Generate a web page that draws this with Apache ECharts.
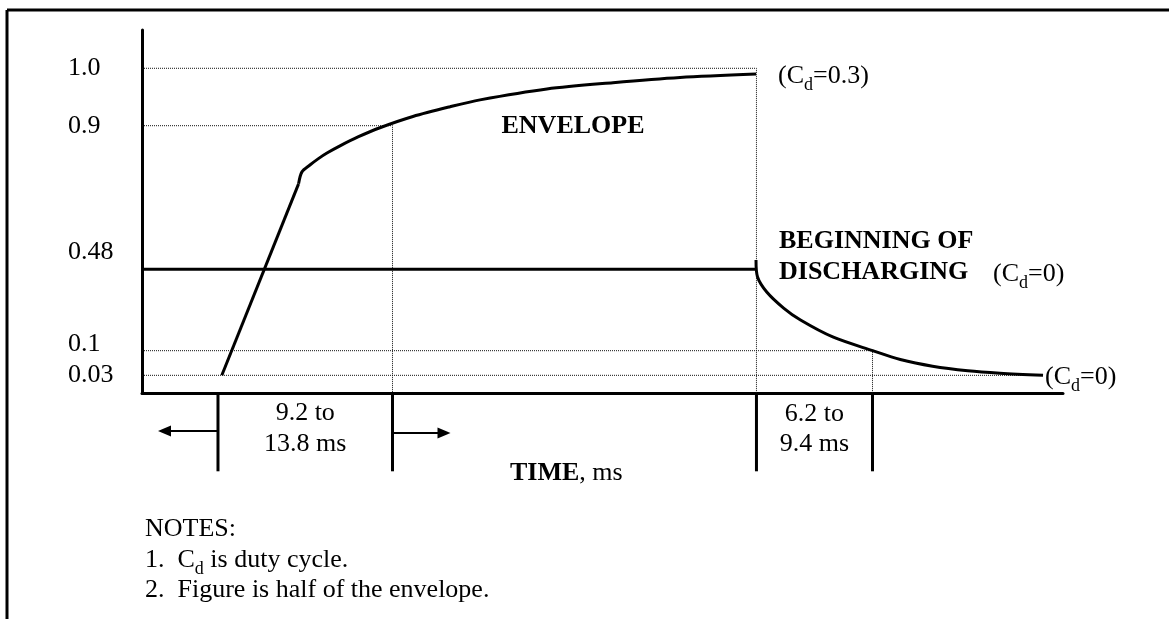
<!DOCTYPE html>
<html>
<head>
<meta charset="utf-8">
<script src="https://cdn.jsdelivr.net/npm/echarts@6/dist/echarts.min.js"></script>
<style>
html,body{margin:0;padding:0;background:#fff;}
#chart{width:1169px;height:619px;}
</style>
</head>
<body>
<div id="chart"></div>
<script>
// level ticks on the vertical axis
var levelTicks=[0.03,0.1,0.48,0.9,1.0];
var levelTickText=['0.03','0.1','0.48','0.9','1.0'];
// the figure is a sketch, the level axis is not linear: knots of the axis scale (value -> share of axis height)
var levelKnots=[0,0.03,0.1,0.48,0.9,1.0];
var levelDrawn=[0,0.0495,0.1173,0.3413,0.7366,0.8946];

// time in ms
var riseTime=[5.2,10.2];
var riseLevel=[0.03,0.73];
var envTime=[10.2,10.42,10.94,11.47,12.05,12.9,14.07,15.5,17.65,20.07,22.02,26.38,30.68,35.05,40.0];
var envLevel=[0.73,0.765,0.785,0.803,0.82,0.841,0.867,0.894,0.916,0.933,0.945,0.964,0.975,0.984,0.99];
var holdTime=[0,40.0];
var holdLevel=[0.48,0.48];
var dischargeTime=[40.0,40.1,40.7,41.8,42.9,45.0,47.6,49.4,51.5,53.8,55.9,58.7];
var dischargeLevel=[0.507,0.444,0.374,0.299,0.243,0.164,0.10,0.075,0.056,0.043,0.036,0.03];
// bracket marks under the time axis
var bracketTime=[4.95,16.32,40.03,47.59];

var FONT='Liberation Serif';

function warp(v){                                   //level -> drawn share of the axis
    for (var i=1;i<levelKnots.length;i++){
        if (v<=levelKnots[i] || i==levelKnots.length-1){
            var a=levelKnots[i-1],b=levelKnots[i];
            return levelDrawn[i-1]+(v-a)/(b-a)*(levelDrawn[i]-levelDrawn[i-1]);
        }
    }
}
function pairs(t,v){
    return t.map(function (x,i) {return [x,warp(v[i])];});
}
function solid(name,t,v,smooth){
    return {name:name,type:'line',data:pairs(t,v),symbol:'none',smooth:smooth,
        lineStyle:{color:'#000',width:3},z:5};
}
function dotted(name,data){
    return {name:name,type:'line',data:data,symbol:'none',
        lineStyle:{color:'#111',width:1,type:[1,1]},z:2};
}

var lastT=dischargeTime[dischargeTime.length-1];
var guides=[
    dotted('g10',[[0,warp(1.0)],[bracketTime[2],warp(1.0)],[bracketTime[2],0]]),
    dotted('g09',[[0,warp(0.9)],[bracketTime[1],warp(0.9)],[bracketTime[1],0]]),
    dotted('g01',[[0,warp(0.1)],[bracketTime[3],warp(0.1)],[bracketTime[3],0]]),
    dotted('g003',[[0,warp(0.03)],[lastT,warp(0.03)]])
];

var labelStyle=['n','lift2','lift1','n','n'];     //0.1 and 0.48 sit a bit above their line

var chart=echarts.init(document.getElementById('chart'));
var option={
    animation:false,
    backgroundColor:'#fff',
    grid:{left:142,top:30,width:921,height:363.3},
    xAxis:{type:'value',min:0,max:60,
        axisLine:{lineStyle:{color:'#000',width:3}},
        axisTick:{show:false},axisLabel:{show:false},splitLine:{show:false}},
    yAxis:{type:'value',min:0,max:1,
        axisLine:{show:true,lineStyle:{color:'#000',width:3}},
        axisTick:{show:false},splitLine:{show:false},
        axisLabel:{
            customValues:levelTicks.map(warp),
            margin:74,align:'left',color:'#000',fontFamily:FONT,fontSize:26,
            formatter:function (val) {
                for (var i=0;i<levelTicks.length;i++){
                    if (Math.abs(warp(levelTicks[i])-val)<1e-6) return '{'+labelStyle[i]+'|'+levelTickText[i]+'}';
                }
                return '';
            },
            rich:{
                n:{fontFamily:FONT,fontSize:26,color:'#000'},
                lift1:{fontFamily:FONT,fontSize:26,color:'#000',padding:[0,0,34,0]},
                lift2:{fontFamily:FONT,fontSize:26,color:'#000',padding:[0,0,14,0]}
            }
        }},
    series:[
        solid('rise',riseTime,riseLevel,false),
        solid('envelope',envTime,envLevel,0.3),
        solid('hold',holdTime,holdLevel,false),
        solid('discharge',dischargeTime,dischargeLevel,0.3)
    ].concat(guides)
};
chart.setOption(option);

var rich={
    n:{fontFamily:FONT,fontSize:26,color:'#000',lineHeight:36,verticalAlign:'middle'},
    s:{fontFamily:FONT,fontSize:18,color:'#000',lineHeight:18,verticalAlign:'bottom'},
    b:{fontFamily:FONT,fontSize:26,fontWeight:'bold',color:'#000',lineHeight:36,verticalAlign:'middle'}
};
function txt(s,x,y,align){
    return {type:'text',x:x,y:y,z:10,style:{text:s,rich:rich,align:align||'left',verticalAlign:'middle',
        fontFamily:FONT,fontSize:26,fill:'#000'}};
}
function arrow(x1,y,x2){
    var dir=x2>x1?1:-1;
    return [
        {type:'line',shape:{x1:x1,y1:y,x2:x2-dir*10,y2:y},style:{stroke:'#000',lineWidth:2}},
        {type:'polygon',shape:{points:[[x2,y],[x2-dir*13,y-5.5],[x2-dir*13,y+5.5]]},style:{fill:'#000'}}
    ];
}

var els=[
    //page frame
    {type:'line',shape:{x1:7,y1:10,x2:1169,y2:10},style:{stroke:'#000',lineWidth:3}},
    {type:'line',shape:{x1:7,y1:10,x2:7,y2:619},style:{stroke:'#000',lineWidth:3}}
];
var bx=[];
bracketTime.forEach(function (t) {
    var p=chart.convertToPixel({gridIndex:0},[t,0]);
    bx.push(p[0]);
    els.push({type:'line',shape:{x1:p[0],y1:p[1],x2:p[0],y2:p[1]+78},style:{stroke:'#000',lineWidth:3}});
});
els=els.concat(arrow(bx[0],431,bx[0]-60),arrow(bx[1],433,bx[1]+58));
els.push(
    txt('{n|9.2 to}',(bx[0]+bx[1])/2,413,'center'),
    txt('{n|13.8 ms}',(bx[0]+bx[1])/2,444,'center'),
    txt('{n|6.2 to}',(bx[2]+bx[3])/2,414,'center'),
    txt('{n|9.4 ms}',(bx[2]+bx[3])/2,444,'center'),
    txt('{b|TIME}{n|, ms}',510,473),
    txt('{b|ENVELOPE}',573,126,'center'),
    txt('{n|(C}{s|d}{n|=0.3)}',778,76),
    txt('{b|BEGINNING OF}',779,241),
    txt('{b|DISCHARGING}',779,272),
    txt('{n|(C}{s|d}{n|=0)}',993,274),
    txt('{n|(C}{s|d}{n|=0)}',1045,377),
    txt('{n|NOTES:}',145,529),
    txt('{n|1.  C}{s|d}{n| is duty cycle.}',145,560),
    txt('{n|2.  Figure is half of the envelope.}',145,590)
);
chart.setOption({graphic:{elements:els}});
</script>
</body>
</html>
